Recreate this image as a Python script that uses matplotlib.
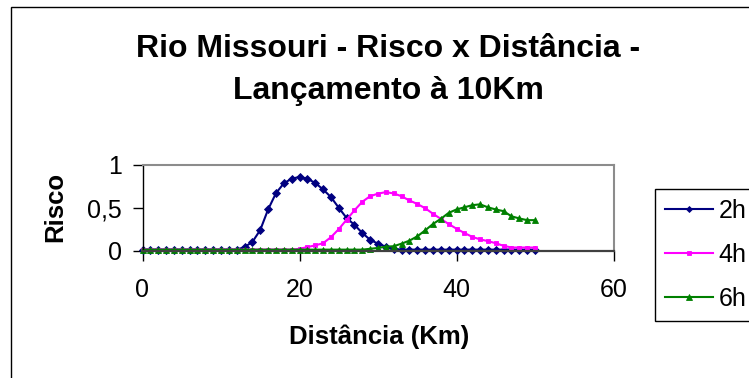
import matplotlib
matplotlib.use("Agg")
import matplotlib.pyplot as plt
from matplotlib.patches import Rectangle

plt.rcParams['font.family'] = ['Liberation Sans', 'DejaVu Sans']

# Distance along the river (km)
distancia = list(range(0, 51))

# Risk after 2 hours
risco_2h = [0.01] * 13 + [
    0.04, 0.10, 0.24, 0.48, 0.67, 0.785, 0.84, 0.86, 0.84, 0.79,
    0.715, 0.625, 0.50, 0.38, 0.30, 0.205, 0.125, 0.08, 0.045, 0.02,
] + [0.01] * 18

# Risk after 4 hours
risco_4h = [0.01] * 20 + [
    0.02, 0.04, 0.06, 0.085, 0.155, 0.25, 0.36, 0.47, 0.57, 0.635,
    0.665, 0.683, 0.667, 0.635, 0.585, 0.545, 0.495, 0.43, 0.37, 0.31,
    0.255, 0.205, 0.16, 0.13, 0.11, 0.085, 0.055, 0.035, 0.035, 0.035,
    0.035,
]

# Risk after 6 hours
risco_6h = [0.01] * 29 + [
    0.02, 0.03, 0.045, 0.05, 0.08, 0.115, 0.165, 0.235, 0.31, 0.37,
    0.44, 0.48, 0.505, 0.53, 0.54, 0.505, 0.48, 0.46, 0.40, 0.375,
    0.355, 0.355,
]

series = [
    ("2h", risco_2h, "#000080", "D", 3.8),
    ("4h", risco_4h, "#FF00FF", "s", 3.4),
    ("6h", risco_6h, "#008000", "^", 4.8),
]

W, H = 749, 378
fig = plt.figure(figsize=(W / 100, H / 100), dpi=100)
fig.patch.set_facecolor("white")

# outer chart frame
fig.patches.append(Rectangle((10.5 / W, -0.1), 1.2, 1.1 - 7.5 / H,
                             transform=fig.transFigure, fill=False,
                             edgecolor="black", linewidth=1.0))

left, right = 142.5 / W, 613.5 / W
bottom, top = 1 - 250.5 / H, 1 - 165 / H
ax = fig.add_axes([left, bottom, right - left, top - bottom])

for nome, valores, cor, marcador, ms in series:
    ax.plot(distancia, valores, color=cor, linewidth=1.5, marker=marcador,
            markersize=ms, markeredgewidth=0.6, markeredgecolor=cor,
            label=nome, clip_on=False)

ax.set_xlim(0, 60)
ax.set_ylim(0, 1)
ax.set_xticks([0, 20, 40, 60])
ax.set_yticks([0, 0.5, 1])
ax.set_yticklabels(["0", "0,5", "1"])
ax.tick_params(axis="both", direction="out", length=7, width=1,
               color="black", labelsize=18)
ax.tick_params(axis="x", pad=13)
ax.tick_params(axis="y", pad=8)

ax.spines["left"].set_color("black")
ax.spines["left"].set_linewidth(1.0)
ax.spines["bottom"].set_color("#404040")
ax.spines["bottom"].set_linewidth(1.6)
for s in ("top", "right"):
    ax.spines[s].set_color("#8c8c8c")
    ax.spines[s].set_linewidth(1.5)

fig.text(388.5 / W, 1 - 70 / H,
         "Rio Missouri - Risco x Distância -\nLançamento à 10Km",
         ha="center", va="center", fontsize=23, fontweight="bold",
         linespacing=1.55)

fig.text(379 / W, 1 - 337 / H, "Distância (Km)", ha="center", va="center",
         fontsize=18.5, fontweight="bold")
fig.text(55.5 / W, 1 - 207 / H, "Risco", ha="center", va="center",
         rotation=90, fontsize=18.5, fontweight="bold")

leg = fig.legend(loc="upper left", bbox_to_anchor=(655 / W, 1 - 189 / H),
                 bbox_transform=fig.transFigure, borderaxespad=0,
                 fontsize=18, frameon=True, fancybox=False, shadow=False,
                 handlelength=1.9, handletextpad=0.25, labelspacing=0.8,
                 borderpad=0.4, markerscale=0.8)
leg.get_frame().set_edgecolor("black")
leg.get_frame().set_linewidth(1.0)
leg.get_frame().set_alpha(1)

fig.savefig("out.png", dpi=100)
